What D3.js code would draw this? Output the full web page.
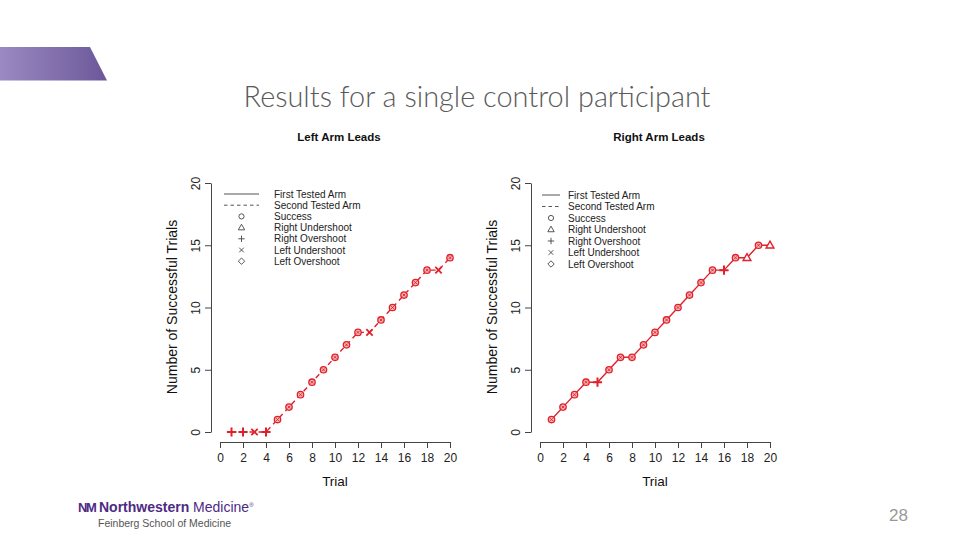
<!DOCTYPE html>
<html><head><meta charset="utf-8">
<script src="https://cdn.jsdelivr.net/npm/d3@7"></script>
<style>body{margin:0;background:#fff}svg{display:block}</style>
</head><body>
<svg id="c" width="960" height="540"></svg>
<script>
const trials = d3.range(1, 21);
const leftValues = [0,0,0,0,1,2,3,4,5,6,7,8,8,9,10,11,12,13,13,14];
const leftMarkers = ["plus","plus","x","plus","circle","circle","circle","circle","circle","circle","circle","circle","x","circle","circle","circle","circle","circle","x","circle"];
const rightValues = [1,2,3,4,4,5,6,6,7,8,9,10,11,12,13,13,14,14,15,15];
const rightMarkers = ["circle","circle","circle","circle","plus","circle","circle","circle","circle","circle","circle","circle","circle","circle","circle","plus","circle","triangle","circle","triangle"];
const xTicks = [0,2,4,6,8,10,12,14,16,18,20];
const yTicks = [0,5,10,15,20];
const legendLabels = ["First Tested Arm","Second Tested Arm","Success","Right Undershoot","Right Overshoot","Left Undershoot","Left Overshoot"];
const legendSymbols = ["solid","dashed","circle","triangle","plus","x","diamond"];

const svg = d3.select("#c");
const RED = "#e0202a";

// header bar
const defs = svg.append("defs");
const g1 = defs.append("linearGradient").attr("id","hb");
g1.append("stop").attr("offset","0%").attr("stop-color","#9a89c2");
g1.append("stop").attr("offset","100%").attr("stop-color","#6c5899");
svg.append("path").attr("d","M0,47 L90,47 L107,80.5 L0,80.5 Z").attr("fill","url(#hb)");

svg.append("text").attr("x",477).attr("y",107).attr("text-anchor","middle")
  .attr("font-family","Lato, 'Open Sans', sans-serif").attr("font-weight",300)
  .attr("font-size",29).attr("fill","#5a5a5a")
  .attr("textLength",467).attr("lengthAdjust","spacingAndGlyphs")
  .text("Results for a single control participant");

function symbolPath(type, s) {
  switch(type) {
    case "plus": return `M${-s},0L${s},0M0,${-s}L0,${s}`;
    case "x": { const t=s*0.72; return `M${-t},${-t}L${t},${t}M${-t},${t}L${t},${-t}`; }
    case "triangle": return `M0,${-s*1.05}L${s},${s*0.7}L${-s},${s*0.7}Z`;
    case "diamond": return `M0,${-s}L${s},0L0,${s}L${-s},0Z`;
  }
  return "";
}

function drawPanel(opts) {
  const {x0, x1, title, values, markers, dashed, legend} = opts;
  const g = svg.append("g");
  const xs = d3.scaleLinear().domain([0,20]).range([x0, x1]);
  const ys = d3.scaleLinear().domain([0,20]).range([432, 183]);
  const font = "'Liberation Sans', Arial, sans-serif";

  g.append("text").attr("x",(x0+x1)/2+4).attr("y",141).attr("text-anchor","middle")
    .attr("font-family",font).attr("font-weight","bold").attr("font-size",11.5).attr("fill","#111").text(title);

  // x axis
  const xa = g.append("g").attr("transform","translate(0,442)")
    .call(d3.axisBottom(xs).tickValues(xTicks).tickSize(6).tickSizeOuter(0).tickPadding(5));
  xa.select(".domain").attr("stroke","#444");
  xa.selectAll(".tick line").attr("stroke","#444");
  xa.selectAll("text").attr("font-family",font).attr("font-size",12).attr("fill","#222");

  // y axis
  const yaxX = x0 - 9;
  const ya = g.append("g").attr("transform",`translate(${yaxX},0)`)
    .call(d3.axisLeft(ys).tickValues(yTicks).tickSize(6).tickSizeOuter(0).tickPadding(0));
  ya.select(".domain").attr("stroke","#444");
  ya.selectAll(".tick line").attr("stroke","#444");
  ya.selectAll(".tick text").attr("font-family",font).attr("font-size",12).attr("fill","#222")
    .attr("text-anchor","middle").attr("transform","translate(-15,0) rotate(-90)").attr("x",0).attr("dy","0.35em");

  g.append("text").attr("transform",`translate(${yaxX-34},307) rotate(-90)`).attr("text-anchor","middle")
    .attr("font-family",font).attr("font-size",14).attr("fill","#111").text("Number of Successful Trials");
  g.append("text").attr("x",(x0+x1)/2).attr("y",486).attr("text-anchor","middle")
    .attr("font-family",font).attr("font-size",13.5).attr("fill","#111").text("Trial");

  // line
  const pts = trials.map((t,i)=>({t, v: values[i], m: markers[i]}));
  const line = d3.line().x(d=>xs(d.t)).y(d=>ys(d.v));
  g.append("path").attr("d", line(pts)).attr("fill","none").attr("stroke",RED)
    .attr("stroke-width",1.4).attr("stroke-dasharray", dashed ? "5,4" : null);

  // markers
  pts.forEach(d=>{
    const cx = xs(d.t), cy = ys(d.v);
    if (d.m === "circle") {
      g.append("circle").attr("cx",cx).attr("cy",cy).attr("r",3.2)
        .attr("fill","#f6b4b4").attr("stroke",RED).attr("stroke-width",1.3);
      g.append("path").attr("transform",`translate(${cx},${cy})`).attr("d",symbolPath("x",1.9))
        .attr("stroke",RED).attr("stroke-width",0.9);
    } else if (d.m === "triangle") {
      g.append("path").attr("transform",`translate(${cx},${cy})`).attr("d",symbolPath("triangle",3.9))
        .attr("fill","#fff").attr("stroke",RED).attr("stroke-width",1.4);
    } else if (d.m === "plus") {
      g.append("path").attr("transform",`translate(${cx},${cy})`).attr("d",symbolPath("plus",4.6))
        .attr("fill","none").attr("stroke",RED).attr("stroke-width",2);
    } else {
      g.append("path").attr("transform",`translate(${cx},${cy})`).attr("d",symbolPath("x",4.4))
        .attr("fill","none").attr("stroke",RED).attr("stroke-width",1.8);
    }
  });

  // legend
  const lg = g.append("g");
  legendLabels.forEach((lab,i)=>{
    const y = legend.y0 + i*legend.dy;
    const sym = legendSymbols[i];
    const mid = (legend.l0+legend.l1)/2;
    if (sym === "solid" || sym === "dashed") {
      lg.append("line").attr("x1",legend.l0).attr("x2",legend.l1).attr("y1",y).attr("y2",y)
        .attr("stroke","#555").attr("stroke-width",1).attr("stroke-dasharray", sym==="dashed"?"3.5,3":null);
    } else if (sym === "circle") {
      lg.append("circle").attr("cx",mid).attr("cy",y).attr("r",2.6).attr("fill","none").attr("stroke","#444").attr("stroke-width",0.9);
    } else {
      lg.append("path").attr("transform",`translate(${mid},${y})`).attr("d",symbolPath(sym,3.2))
        .attr("fill","none").attr("stroke","#444").attr("stroke-width",0.9);
    }
    lg.append("text").attr("x",legend.tx).attr("y",y).attr("dy","0.35em")
      .attr("font-family",font).attr("font-size",10).attr("fill","#222").text(lab);
  });
}

drawPanel({x0:220, x1:450, title:"Left Arm Leads", values:leftValues, markers:leftMarkers, dashed:true,
  legend:{l0:224, l1:259, tx:274, y0:194, dy:11.2}});
drawPanel({x0:540, x1:770, title:"Right Arm Leads", values:rightValues, markers:rightMarkers, dashed:false,
  legend:{l0:542, l1:560, tx:568, y0:195, dy:11.5}});

// footer logo
const lf = "'Liberation Sans', Arial, sans-serif";
svg.append("text").attr("x",78).attr("y",512).attr("font-family",lf).attr("font-weight","bold")
  .attr("font-size",13).attr("fill","#4e2a84").attr("letter-spacing",-1.5).text("NM");
const t = svg.append("text").attr("x",99).attr("y",512).attr("font-family",lf).attr("font-size",14).attr("fill","#4e2a84");
t.append("tspan").attr("font-weight","bold").text("Northwestern");
t.append("tspan").text(" Medicine");
t.append("tspan").attr("font-size",6).attr("dy",-5).text("®");
svg.append("text").attr("x",98).attr("y",527).attr("font-family",lf).attr("font-size",10.5).attr("fill","#555")
  .text("Feinberg School of Medicine");

svg.append("text").attr("x",908).attr("y",521).attr("text-anchor","end").attr("font-family",lf)
  .attr("font-size",17).attr("fill","#999").text("28");
</script>
</body></html>
